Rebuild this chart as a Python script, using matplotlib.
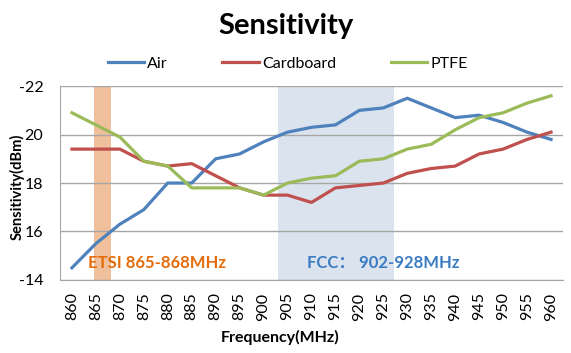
import numpy as np
import matplotlib.pyplot as plt

plt.rcParams['font.family'] = ['Lato', 'Noto Sans CJK SC', 'DejaVu Sans']

freq = np.arange(860, 961, 5)
air = [14.5, 15.5, 16.3, 16.9, 18.0, 18.0, 19.0, 19.2, 19.7, 20.1, 20.3,
       20.4, 21.0, 21.1, 21.5, 21.1, 20.7, 20.8, 20.5, 20.1, 19.8]
cardboard = [19.4, 19.4, 19.4, 18.9, 18.7, 18.8, 18.3, 17.8, 17.5, 17.5, 17.2,
             17.8, 17.9, 18.0, 18.4, 18.6, 18.7, 19.2, 19.4, 19.8, 20.1]
ptfe = [20.9, 20.4, 19.9, 18.9, 18.7, 17.8, 17.8, 17.8, 17.5, 18.0, 18.2,
        18.3, 18.9, 19.0, 19.4, 19.6, 20.2, 20.7, 20.9, 21.3, 21.6]
yticks = [14, 16, 18, 20, 22]
ytick_labels = ['-14', '16', '18', '20', '-22']
etsi = (864.6, 868.1)
fcc = (903.0, 927.3)

fig = plt.figure(figsize=(5.71, 3.53), dpi=100)
ax = fig.add_axes([0.105, 0.207, 0.881, 0.549])

ax.axvspan(*etsi, color='#F0BF9B', lw=0, zorder=1)
ax.axvspan(*fcc, color='#DAE3EE', lw=0, zorder=1)

ax.plot(freq, air, color='#4F81BD', lw=2.3, label='Air', zorder=3)
ax.plot(freq, cardboard, color='#C0504D', lw=2.3, label='Cardboard', zorder=3)
ax.plot(freq, ptfe, color='#9BBB59', lw=2.3, label='PTFE', zorder=3)

ax.set_xlim(857.5, 962.5)
ax.set_ylim(14, 22)
ax.set_xticks(freq)
ax.set_xticklabels([str(f) for f in freq], rotation=90, fontsize=11.5)
ax.set_yticks(yticks)
ax.set_yticklabels(ytick_labels, fontsize=11.5)
ax.tick_params(axis='x', length=0, pad=9)
ax.tick_params(axis='y', length=0, pad=12)
ax.grid(axis='y', color='#A6A6A6', lw=1, zorder=2)
ax.set_axisbelow(False)
for s in ['top', 'right']:
    ax.spines[s].set_visible(False)
for s in ['left', 'bottom']:
    ax.spines[s].set_color('#A6A6A6')

ax.text(863.3, 14.7, 'ETSI 865-868MHz', color='#E46C0A', fontsize=12,
        fontweight='bold', va='center', zorder=4)
ax.text(909.0, 14.7, 'FCC： 902-928MHz', color='#3B7BC2', fontsize=12,
        fontweight='bold', va='center', zorder=4)

ax.set_xlabel('Frequency(MHz)', fontsize=11.5, fontweight='bold')
ax.xaxis.set_label_coords(0.437, -0.258)
ax.set_ylabel('Sensitivity(dBm)', fontsize=10.5, fontweight='bold')
ax.yaxis.set_label_coords(-0.07, 0.48)

fig.text(0.5, 0.925, 'Sensitivity', ha='center', va='center',
         fontsize=21, fontweight='bold')
fig.legend(loc='center', bbox_to_anchor=(0.504, 0.82), ncol=3, frameon=False,
           fontsize=11.5, handlelength=2.3, columnspacing=3.4,
           handletextpad=0.2)

fig.savefig('out.png', dpi=100)
